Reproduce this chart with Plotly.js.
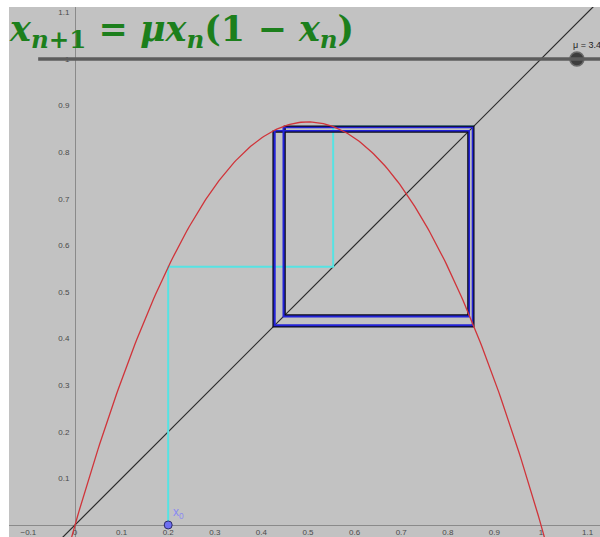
<!DOCTYPE html>
<html>
<head>
<meta charset="utf-8">
<script src="https://cdn.plot.ly/plotly-3.0.1.min.js"></script>
<style>
  html, body { margin: 0; padding: 0; background: #ffffff; }
  #chart { width: 600px; height: 537px; }
</style>
</head>
<body>
<div id="chart"></div>
<script>
// Logistic map x_{n+1} = mu * x_n * (1 - x_n), cobweb diagram
const mu = 3.46;
const x0 = 0.2;

// First steps of the orbit (cyan)
const orbitStart = [0.2, 0.554, 0.855];
// Early passes around the 4-cycle (blue)
const orbitEarly = [0.853, 0.429, 0.846, 0.447, 0.853, 0.428, 0.846, 0.448, 0.853];
// Later passes around the 4-cycle (black)
const orbitLate = [0.855, 0.426, 0.844, 0.450, 0.855, 0.426, 0.844, 0.450, 0.855];

// Domain sampled for the parabola and the diagonal y = x
const curveFrom = -0.035, curveTo = 1.035, curveStep = 0.004;
const diagX = [-0.3, 1.3];

// Axis ticks
const xTicks = [-0.1, 0, 0.1, 0.2, 0.3, 0.4, 0.5, 0.6, 0.7, 0.8, 0.9, 1, 1.1];
const xTickText = ['\u22120.1', '0', '0.1', '0.2', '0.3', '0.4', '0.5', '0.6', '0.7', '0.8', '0.9', '1', '1.1'];
const yTicks = [0.1, 0.2, 0.3, 0.4, 0.5, 0.6, 0.7, 0.8, 0.9, 1, 1.1];
const yTickText = ['0.1', '0.2', '0.3', '0.4', '0.5', '0.6', '0.7', '0.8', '0.9', '1', '1.1'];

// Slider for mu
const sliderFrom = -0.079, sliderTo = 1.3, sliderKnob = 1.077, sliderY = 1;

const xRange = [-0.1416, 1.1266];
const yRange = [-0.0258, 1.1116];

function f(x) { return mu * x * (1 - x); }

const cx = [], cy = [];
for (let x = curveFrom; x <= curveTo + 1e-9; x += curveStep) { cx.push(x); cy.push(f(x)); }

// Staircase path: vertical to the curve, horizontal to the diagonal
function cobweb(seq, startOnAxis) {
  const px = [seq[0]], py = [startOnAxis ? 0 : seq[0]];
  for (let i = 0; i + 1 < seq.length; i++) {
    px.push(seq[i]);     py.push(seq[i + 1]);
    px.push(seq[i + 1]); py.push(seq[i + 1]);
  }
  return { x: px, y: py };
}

const start = cobweb(orbitStart, true);
const early = cobweb(orbitEarly, false);
const late = cobweb(orbitLate, false);

const traces = [
  { x: diagX, y: diagX, mode: 'lines', line: { color: '#2a2a2a', width: 1.2 }, hoverinfo: 'skip' },
  { x: start.x, y: start.y, mode: 'lines', line: { color: '#55e3e3', width: 2 }, hoverinfo: 'skip' },
  { x: late.x, y: late.y, mode: 'lines', line: { color: '#0d0d1a', width: 2.2 }, hoverinfo: 'skip' },
  { x: early.x, y: early.y, mode: 'lines', line: { color: '#2323d8', width: 1.6 }, hoverinfo: 'skip' },
  { x: cx, y: cy, mode: 'lines', line: { color: '#d0343a', width: 1.3 }, hoverinfo: 'skip' },
  { x: [x0], y: [0], mode: 'markers', marker: { size: 8, color: '#6f6ff2', line: { color: '#2b2b6a', width: 1 } }, hoverinfo: 'skip', cliponaxis: false },
  { x: [sliderKnob], y: [sliderY], mode: 'markers', marker: { size: 14, color: '#3d3d3d', line: { color: '#6a6a6a', width: 1.5 } }, hoverinfo: 'skip', cliponaxis: false }
];

const tickFont = { family: 'Liberation Sans, Arial, sans-serif', size: 8, color: '#4a4a4a' };

const layout = {
  width: 600, height: 537,
  margin: { l: 9, r: 0, t: 7, b: 0, pad: 0 },
  paper_bgcolor: '#ffffff',
  plot_bgcolor: '#c2c2c2',
  showlegend: false,
  xaxis: {
    range: xRange, anchor: 'free', position: (0 - yRange[0]) / (yRange[1] - yRange[0]),
    showgrid: false, zeroline: false, showline: true, linecolor: '#8a8a8a', linewidth: 1.5,
    tickmode: 'array', tickvals: xTicks, ticktext: xTickText, ticks: '', ticklabelstandoff: -1,
    tickfont: tickFont, layer: 'below traces', automargin: false, fixedrange: true
  },
  yaxis: {
    range: yRange, anchor: 'free', position: (0 - xRange[0]) / (xRange[1] - xRange[0]),
    showgrid: false, zeroline: false, showline: true, linecolor: '#8a8a8a', linewidth: 1.5,
    tickmode: 'array', tickvals: yTicks, ticktext: yTickText, ticks: '', ticklabelstandoff: 4,
    tickfont: tickFont, layer: 'below traces', automargin: false, fixedrange: true
  },
  shapes: [
    { type: 'line', xref: 'x', yref: 'y', x0: sliderFrom, x1: sliderTo, y0: sliderY, y1: sliderY,
      line: { color: '#5c5c5c', width: 3.5 }, layer: 'above' }
  ],
  annotations: [
    { xref: 'paper', yref: 'paper', x: -0.004, y: 0.955, xanchor: 'left', yanchor: 'middle', showarrow: false,
      text: '<b><i>x</i><sub><i>n</i>+1</sub> = <i>\u03bcx</i><sub><i>n</i></sub>(1 \u2212 <i>x</i><sub><i>n</i></sub>)</b>',
      font: { family: 'DejaVu Serif, Liberation Serif, serif', size: 35, color: '#1c7f1c' } },
    { xref: 'x', yref: 'y', x: x0 + 0.005, y: 0.005, xanchor: 'left', yanchor: 'bottom', showarrow: false,
      text: 'x<sub>0</sub>', font: { family: 'Liberation Sans, Arial, sans-serif', size: 12, color: '#8a8af2' } },
    { xref: 'x', yref: 'y', x: sliderKnob - 0.013, y: sliderY + 0.015, xanchor: 'left', yanchor: 'bottom', showarrow: false,
      text: '\u03bc = 3.46', font: { family: 'Liberation Sans, Arial, sans-serif', size: 9, color: '#222222' } }
  ]
};

Plotly.newPlot('chart', traces, layout, { displayModeBar: false, staticPlot: true });
</script>
</body>
</html>
